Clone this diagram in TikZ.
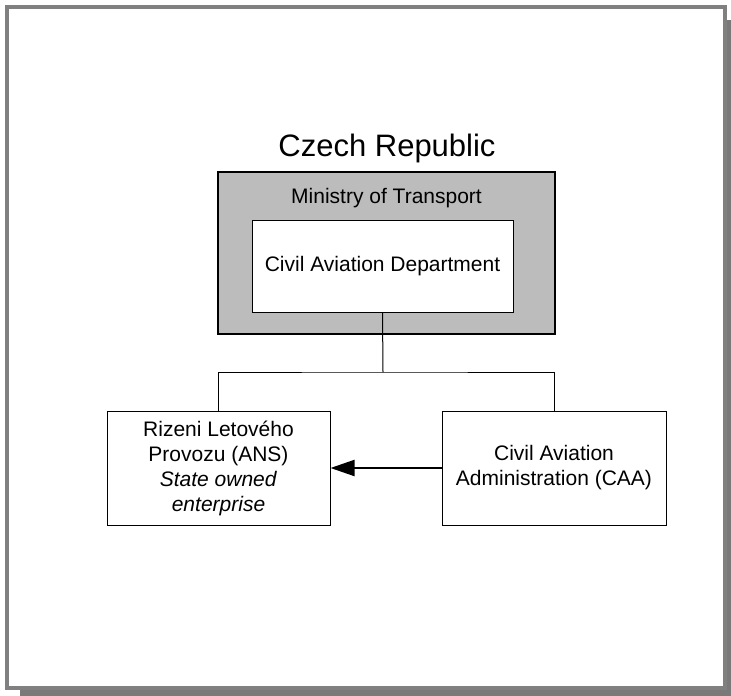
\documentclass[tikz,border=0pt]{standalone}
\usepackage{fontspec}
\setmainfont{Liberation Sans}
\usepackage{tikz}
\usetikzlibrary{arrows.meta}

\tikzset{
    orgbox/.style={draw=black, line width=1pt, fill=white, align=center, inner sep=0pt,
        font=\fontsize{21}{25}\selectfont},
}

\begin{document}
\begin{tikzpicture}[x=1pt, y=-1pt]
    \useasboundingbox (0,0) rectangle (731,696);
    % frame with shadow
    \fill [gray!95!black] (20,20) rectangle (731,696);
    \draw [line width=4pt, draw=gray, fill=white] (7,7) rectangle (725,687.5);

    \node [anchor=base, font=\fontsize{31}{36}\selectfont] (cz_title) at (387,156) {Czech Republic};

    \node [orgbox, line width=2pt, fill=lightgray!95!gray, minimum width=337pt, minimum height=162pt] (cz_min) at (386.5,253) {};
    \node [anchor=base, font=\fontsize{21}{25}\selectfont] (cz_min_lbl) at (386.5,203) {Ministry of Transport};
    \node [orgbox, minimum width=261pt, minimum height=92pt] (cz_cad) at (382.5,266) {Civil Aviation Department};

    \node [orgbox, minimum width=223pt, minimum height=114pt] (cz_ans) at (218.5,468)
        {Rizeni Letového\\Provozu (ANS)\\\textit{State owned}\\\textit{enterprise}};
    \node [orgbox, minimum width=224pt, minimum height=114pt] (cz_caa) at (554,468)
        {Civil Aviation\\Administration (CAA)};

    \coordinate (cz_bus) at (383,372);
    \draw [line width=1pt] (cz_cad.south) -- (cz_bus);
    \draw [line width=1pt] (cz_ans.north) |- (cz_bus) -| (cz_caa.north);
    \draw [line width=2pt, -{Triangle[length=24pt, width=16pt]}] (cz_caa.west) -- (cz_ans.east);

\end{tikzpicture}
\end{document}
